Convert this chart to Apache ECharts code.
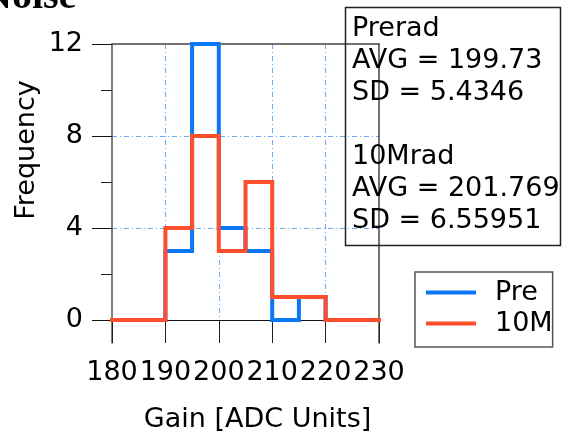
<!DOCTYPE html>
<html>
<head>
<meta charset="utf-8">
<script src="https://cdn.jsdelivr.net/npm/echarts@6.0.0/dist/echarts.min.js"></script>
<style>
html,body{margin:0;padding:0;background:#fff;}
#chart{width:573px;height:432px;}
</style>
</head>
<body>
<div id="chart"></div>
<script>
// histogram bins (5 ADC units wide)
const binEdges = [180, 185, 190, 195, 200, 205, 210, 215, 220, 225, 230];
const preCounts = [0, 0, 3, 12, 4, 3, 0, 1, 0, 0];
const radCounts = [0, 0, 4, 8, 3, 6, 1, 1, 0, 0];
const seriesNames = ['Pre', '10M'];

const yLabelValues = [0, 4, 8, 12];
const yMinorValues = [2, 6, 10];
const yGridValues = [4, 8];
const xGridValues = [190, 200, 210, 220];

const statLines = ['Prerad', 'AVG = 199.73', 'SD = 5.4346', '', '10Mrad', 'AVG = 201.769', 'SD = 6.55951'];

const font = 'DejaVu Sans';
const blue = '#0a78f5';
const red = '#fd4e2e';
const gridColor = '#6eaaf5';

function steps(counts){
    let pts = [];
    for(let i = 0; i < counts.length; i++){
        pts.push([binEdges[i], counts[i]]);
    }
    pts.push([binEdges[binEdges.length - 1], counts[counts.length - 1]]);
    return pts;
}

let chart = echarts.init(document.getElementById('chart'), null, {renderer: 'canvas'});

let hidden = {show: false};
let option = {
    animation: false,
    title: {
        text: 'Noise',
        left: -17,
        top: -22,
        padding: 0,
        textStyle: {fontFamily: 'Liberation Serif', fontWeight: 'bold', fontSize: 40, color: '#000'}
    },
    grid: {left: 112, right: 194, top: 44, bottom: 89, containLabel: false, outerBoundsMode: 'none'},
    legend: {
        orient: 'vertical',
        left: 415,
        top: 272,
        icon: 'rect',
        itemWidth: 50,
        itemHeight: 4,
        itemGap: 4,
        padding: [7, 0, 10, 11],
        borderColor: '#555',
        borderWidth: 1.5,
        textStyle: {fontFamily: font, fontSize: 27, color: '#000', padding: [0, 0, 0, 14]},
        data: seriesNames
    },
    xAxis: [{
        type: 'value',
        min: 180,
        max: 230,
        interval: 10,
        position: 'bottom',
        axisLine: {show: true, onZero: true, lineStyle: {color: '#111', width: 1}},
        axisTick: {show: true, length: 23, lineStyle: {color: '#222'}},
        axisLabel: {margin: 16, fontFamily: font, fontSize: 27, color: '#000'},
        splitLine: hidden,
        name: 'Gain [ADC Units]',
        nameLocation: 'middle',
        nameGap: 63,
        nameTextStyle: {fontFamily: font, fontSize: 27, color: '#000', padding: [0, 0, 0, 24]}
    }, {
        type: 'value',
        min: 180,
        max: 230,
        position: 'top',
        axisLine: {show: true, onZero: false, lineStyle: {color: '#444', width: 1.5}},
        axisTick: {show: false, customValues: xGridValues},
        axisLabel: hidden,
        splitLine: {show: true, lineStyle: {color: gridColor, width: 1, type: [5, 3, 1, 3]}}
    }],
    yAxis: [{
        type: 'value',
        min: -1,
        max: 12,
        position: 'left',
        axisLine: {show: true, onZero: false, lineStyle: {color: '#555', width: 1.5}},
        axisTick: {show: true, length: 20, customValues: yLabelValues, lineStyle: {color: '#111'}},
        axisLabel: {customValues: yLabelValues, margin: 29, fontFamily: font, fontSize: 27, color: '#000'},
        splitLine: hidden,
        name: 'Frequency',
        nameLocation: 'middle',
        nameGap: 72,
        nameTextStyle: {fontFamily: font, fontSize: 27, color: '#000', padding: [0, 0, 0, 87]}
    }, {
        type: 'value',
        min: -1,
        max: 12,
        position: 'left',
        axisLine: {show: false, onZero: false},
        axisTick: {show: true, length: 11, customValues: yMinorValues, lineStyle: {color: '#222'}},
        axisLabel: hidden,
        splitLine: hidden
    }, {
        type: 'value',
        min: -1,
        max: 12,
        position: 'right',
        axisLine: {show: true, onZero: false, lineStyle: {color: '#444', width: 1.5}},
        axisTick: hidden,
        axisLabel: hidden,
        splitLine: hidden
    }, {
        type: 'value',
        min: -1,
        max: 12,
        position: 'left',
        axisLine: {show: false, onZero: false},
        axisTick: {show: false, customValues: yGridValues},
        axisLabel: hidden,
        splitLine: {show: true, lineStyle: {color: gridColor, width: 1, type: [5, 3, 1, 3]}}
    }],
    series: [{
        name: seriesNames[0],
        type: 'line',
        step: 'end',
        data: steps(preCounts),
        showSymbol: false,
        symbol: 'none',
        color: blue,
        itemStyle: {color: blue},
        lineStyle: {color: blue, width: 4, join: 'miter', cap: 'square'},
        z: 3
    }, {
        name: seriesNames[1],
        type: 'line',
        step: 'end',
        data: steps(radCounts),
        showSymbol: false,
        symbol: 'none',
        color: red,
        itemStyle: {color: red},
        lineStyle: {color: red, width: 4, join: 'miter', cap: 'square'},
        z: 4
    }],
    graphic: [{
        type: 'rect',
        left: 343,
        top: 5,
        shape: {width: 215, height: 238},
        style: {fill: 'none', stroke: '#222', lineWidth: 1.5},
        z: 10
    }, {
        type: 'text',
        left: 352,
        top: 13,
        style: {
            text: statLines.join('\n'),
            font: '27px "DejaVu Sans"',
            lineHeight: 32,
            fill: '#000'
        },
        z: 10
    }]
};
chart.setOption(option);
</script>
</body>
</html>
